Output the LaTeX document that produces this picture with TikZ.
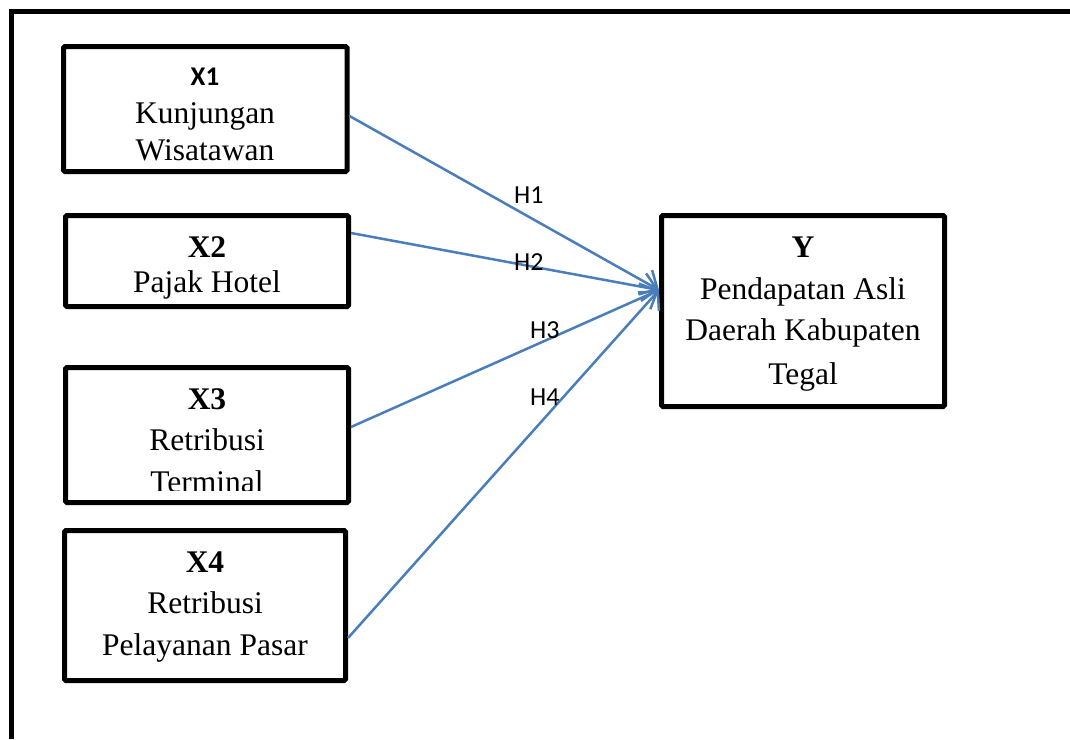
\documentclass[tikz,border=0pt]{standalone}
\usepackage{fontspec}
\setmainfont{Liberation Serif}
\newfontfamily\calibri{Carlito}
\usetikzlibrary{arrows.meta}
\definecolor{arrowblue}{HTML}{4A7EBB}
\tikzset{
  varbox/.style={draw=black, line width=5pt, rounded corners=1.5pt, fill=white, inner sep=0pt},
  bodytext/.style={anchor=base, inner sep=0pt, font=\fontsize{31.5}{38}\selectfont},
  headtext/.style={anchor=base, inner sep=0pt, font=\fontsize{31.5}{38}\selectfont\bfseries},
  sanshead/.style={anchor=base, inner sep=0pt, font=\fontsize{27}{30}\selectfont\calibri\bfseries},
  hlabel/.style={anchor=base west, inner sep=0pt, font=\fontsize{26}{30}\selectfont\calibri},
  link/.style={draw=arrowblue, line width=2.5pt, -{Straight Barb[length=14pt,width=28pt,line width=2.5pt]}}
}
\begin{document}
\begin{tikzpicture}[x=1pt,y=-1pt]
\useasboundingbox (0,0) rectangle (1070,739);
% outer frame
\draw[line width=5pt] (1070,11.5) -- (11.5,11.5) -- (11.5,739);
% boxes
\node[varbox, minimum width=283.5pt, minimum height=125pt] (x1) at (205.25,109) {};
\node[varbox, minimum width=283pt, minimum height=91pt] (x2) at (207,261) {};
\node[varbox, minimum width=283pt, minimum height=135pt] (x3) at (207,435) {};
\node[varbox, minimum width=281pt, minimum height=150pt] (x4) at (205,605.5) {};
\node[varbox, minimum width=283pt, minimum height=191pt] (y) at (803,311) {};
% texts
\node[sanshead] (x1a) at (205,85) {X1};
\node[bodytext] (x1b) at (205,123) {Kunjungan};
\node[bodytext] (x1c) at (205,160) {Wisatawan};
\node[headtext] (x2a) at (207,257) {X2};
\node[bodytext] (x2b) at (207,292.7) {Pajak Hotel};
\node[headtext] (x3a) at (207,409) {X3};
\node[bodytext] (x3b) at (207,450) {Retribusi};
\begin{scope}
\clip (60,400) rectangle (360,490.5);
\node[bodytext] (x3c) at (207,492.5) {Terminal};
\end{scope}
\node[headtext] (x4a) at (205,572) {X4};
\node[bodytext] (x4b) at (205,613) {Retribusi};
\node[bodytext] (x4c) at (205,655) {Pelayanan Pasar};
\node[headtext] (ya) at (803,257) {Y};
\node[bodytext] (yb) at (803,299) {Pendapatan Asli};
\node[bodytext] (yc) at (803,340) {Daerah Kabupaten};
\node[bodytext] (yd) at (803,384) {Tegal};
% connectors
\draw[link] ([yshift=-7pt]x1.east) -- ([yshift=21pt]y.west);
\draw[link] ([yshift=28pt]x2.east) -- ([yshift=21pt]y.west);
\draw[link] ([yshift=8pt]x3.east) -- ([yshift=21pt]y.west);
\draw[link] ([yshift=-32.5pt]x4.east) -- ([yshift=21pt]y.west);
% labels
\node[hlabel] (h1) at (514,203) {H1};
\node[hlabel] (h2) at (514,270) {H2};
\node[hlabel] (h3) at (530,338) {H3};
\node[hlabel] (h4) at (530,405) {H4};
\end{tikzpicture}
\end{document}
